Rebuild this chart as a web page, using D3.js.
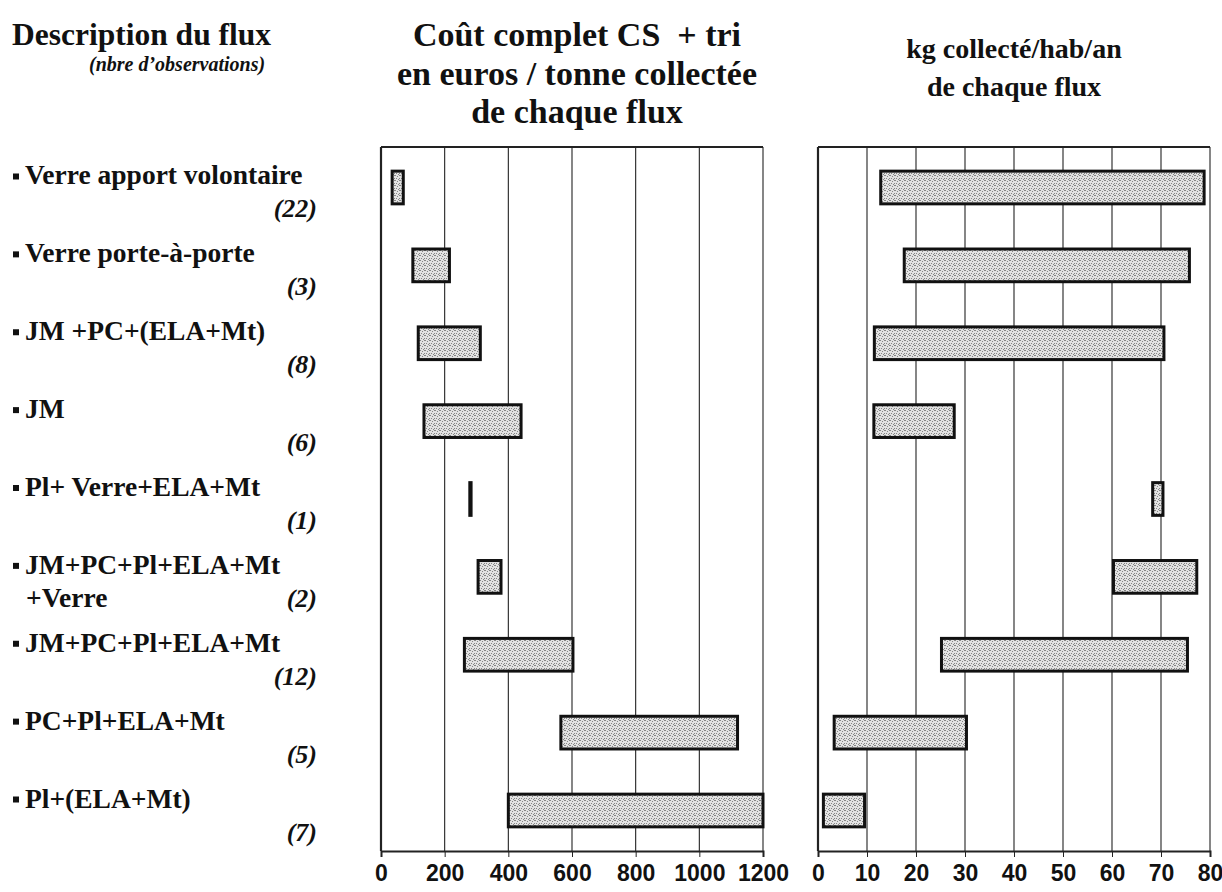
<!DOCTYPE html>
<html>
<head>
<meta charset="utf-8">
<script src="https://cdn.jsdelivr.net/npm/d3@7"></script>
<style>
  body { margin: 0; background: #fff; }
  text { font-family: "Liberation Serif", Tinos, "Times New Roman", Times, serif; fill: #111; }
  .tick text { font-family: "Liberation Sans", Arial, sans-serif; font-weight: bold; }
</style>
</head>
<body>
<svg id="chart" width="1222" height="892"></svg>
<script>
// flux descriptions and number of observations
const flux = ['Verre apport volontaire', 'Verre porte-à-porte', 'JM +PC+(ELA+Mt)', 'JM',
    'Pl+ Verre+ELA+Mt', 'JM+PC+Pl+ELA+Mt|+Verre', 'JM+PC+Pl+ELA+Mt', 'PC+Pl+ELA+Mt', 'Pl+(ELA+Mt)'];
const nbObs = [22, 3, 8, 6, 1, 2, 12, 5, 7];

// cost range, euros / tonne
const coutMin = [35, 100, 117, 135, 279, 305, 262, 565, 400];
const coutMax = [70, 215, 312, 440, 283, 377, 603, 1120, 1200];
const coutTicks = [0, 200, 400, 600, 800, 1000, 1200];

// kg collected / inhabitant / year
const kgMin = [12.8, 17.6, 11.5, 11.4, 68.3, 60.3, 25.2, 3.3, 1.1];
const kgMax = [78.8, 75.8, 70.6, 27.8, 70.4, 77.3, 75.4, 30.3, 9.5];
const kgTicks = [0, 10, 20, 30, 40, 50, 60, 70, 80];

const svg = d3.select('#chart');

let plotTop = 147, plotBottom = 851;

let y = d3.scaleBand()
    .domain(flux)
    .range([plotTop, plotBottom])
    .paddingInner(0.58)
    .paddingOuter(0.31);

// stippled grey fill like the scanned original
let pat = svg.append('defs').append('pattern')
    .attr('id', 'stipple')
    .attr('patternUnits', 'userSpaceOnUse')
    .attr('width', 5)
    .attr('height', 5);
pat.append('rect').attr('width', 5).attr('height', 5).attr('fill', '#e2e2e2');
[[0, 0], [2, 1], [4, 3], [1, 3], [3, 4], [4, 0]].forEach(p => {
    pat.append('rect').attr('x', p[0]).attr('y', p[1]).attr('width', 1).attr('height', 1).attr('fill', '#858585');
});

// headers
svg.append('text').attr('x', 12).attr('y', 45)
    .style('font-size', '31.5px').style('font-weight', 'bold')
    .text('Description du flux');
svg.append('text').attr('x', 89).attr('y', 71)
    .style('font-size', '20px').style('font-weight', 'bold').style('font-style', 'italic')
    .text('(nbre d’observations)');

// row labels
flux.forEach((f, i) => {
    let cy = y(f) + y.bandwidth() / 2;
    let parts = f.split('|');
    svg.append('rect')
        .attr('x', 13).attr('y', cy - 14).attr('width', 6).attr('height', 6)
        .attr('fill', '#111');
    svg.append('text')
        .attr('x', 25).attr('y', cy - 3)
        .style('font-size', '27.5px').style('font-weight', 'bold')
        .text(parts[0]);
    if (parts[1]) {
        svg.append('text')
            .attr('x', 26).attr('y', cy + 30)
            .style('font-size', '27.5px').style('font-weight', 'bold')
            .text(parts[1]);
    }
    svg.append('text')
        .attr('x', 317).attr('y', cy + 30)
        .attr('text-anchor', 'end')
        .style('font-size', '26px').style('font-weight', 'bold').style('font-style', 'italic')
        .text(`(${nbObs[i]})`);
});

function drawPanel(opts) {
    let x = d3.scaleLinear().domain(opts.domain).range(opts.range);
    let g = svg.append('g');

    // title
    opts.title.forEach((t, i) => {
        g.append('text')
            .attr('x', opts.titleX).attr('y', opts.titleY + i * opts.titleStep)
            .attr('text-anchor', 'middle')
            .style('font-size', opts.titleSize).style('font-weight', 'bold')
            .style('white-space', 'pre')
            .text(t);
    });

    // grid lines
    g.selectAll('.grid')
        .data(opts.ticks)
        .join('line')
            .attr('x1', d => x(d)).attr('x2', d => x(d))
            .attr('y1', plotTop).attr('y2', plotBottom)
            .attr('stroke', '#222')
            .attr('stroke-width', d => d === opts.ticks[0] ? 2.2 : 1.1);

    // frame top
    g.append('line')
        .attr('x1', x(opts.domain[0])).attr('x2', x(opts.domain[1]))
        .attr('y1', plotTop).attr('y2', plotTop)
        .attr('stroke', '#222').attr('stroke-width', 2);

    // range bars
    g.selectAll('.bar')
        .data(flux)
        .join('rect')
            .attr('x', (d, i) => x(opts.min[i]))
            .attr('width', (d, i) => x(opts.max[i]) - x(opts.min[i]))
            .attr('y', d => y(d))
            .attr('height', y.bandwidth())
            .attr('fill', 'url(#stipple)')
            .attr('stroke', '#111')
            .attr('stroke-width', 3);

    let axis = g.append('g')
        .attr('transform', `translate(0,${plotBottom})`)
        .call(d3.axisBottom(x).tickValues(opts.ticks).tickSize(6).tickPadding(8).tickFormat(d3.format('d')));
    axis.select('.domain').attr('stroke', '#222').attr('stroke-width', 2);
    axis.selectAll('.tick line').attr('stroke', '#222');
    axis.selectAll('.tick text').style('font-size', '23px').attr('fill', '#111');
}

drawPanel({
    domain: [0, 1200], range: [381, 763], ticks: coutTicks,
    min: coutMin, max: coutMax,
    title: ['Coût complet CS  + tri', 'en euros / tonne collectée', 'de chaque flux'],
    titleX: 577, titleY: 46, titleStep: 38.5, titleSize: '34px'
});

drawPanel({
    domain: [0, 80], range: [818, 1210], ticks: kgTicks,
    min: kgMin, max: kgMax,
    title: ['kg collecté/hab/an', 'de chaque flux'],
    titleX: 1014, titleY: 58, titleStep: 38, titleSize: '28px'
});
</script>
</body>
</html>
